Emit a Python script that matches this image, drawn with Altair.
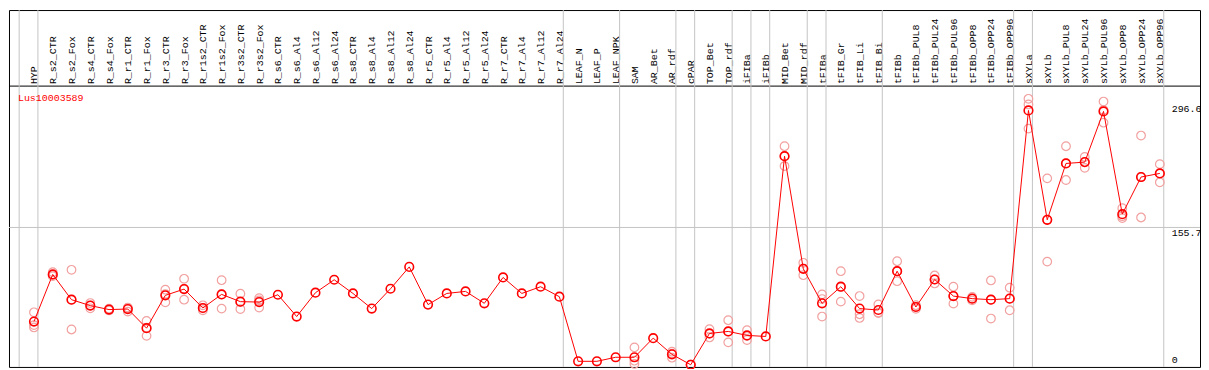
import json
import altair as alt
import pandas as pd

gene = "Lus10003589"

categories = [
    "HYP", "R_s2_CTR", "R_s2_Fox", "R_s4_CTR", "R_s4_Fox", "R_r1_CTR", "R_r1_Fox",
    "R_r3_CTR", "R_r3_Fox", "R_r1s2_CTR", "R_r1s2_Fox", "R_r3s2_CTR", "R_r3s2_Fox",
    "R_s6_CTR", "R_s6_Al4", "R_s6_Al12", "R_s6_Al24", "R_s8_CTR", "R_s8_Al4",
    "R_s8_Al12", "R_s8_Al24", "R_r5_CTR", "R_r5_Al4", "R_r5_Al12", "R_r5_Al24",
    "R_r7_CTR", "R_r7_Al4", "R_r7_Al12", "R_r7_Al24", "LEAF_N", "LEAF_P", "LEAF_NPK",
    "SAM", "AR_Bet", "AR_rdf", "cPAR", "TOP_Bet", "TOP_rdf", "iFIBa", "iFIBb",
    "MID_Bet", "MID_rdf", "tFIBa", "tFIB_Gr", "tFIB_Li", "tFIB_Bi", "tFIBb",
    "tFIBb_PUL8", "tFIBb_PUL24", "tFIBb_PUL96", "tFIBb_OPP8", "tFIBb_OPP24",
    "tFIBb_OPP96", "sXYLa", "sXYLb", "sXYLb_PUL8", "sXYLb_PUL24", "sXYLb_PUL96",
    "sXYLb_OPP8", "sXYLb_OPP24", "sXYLb_OPP96",
]

means = [
    49.0, 102.4, 73.8, 67.1, 62.6, 63.2, 41.5, 78.7, 85.8, 64.4, 79.8, 71.6, 71.1,
    79.4, 54.7, 81.7, 96.4, 80.9, 63.7, 86.2, 111.0, 68.2, 80.9, 83.2, 69.7,
    99.0, 80.9, 88.5, 77.2, 3.9, 3.9, 8.5,
    8.5, 30.2, 11.8, 0.0, 35.5, 37.8, 33.3, 32.1,
    236.5, 108.8, 69.7, 88.5, 63.7, 62.1, 106.1,
    65.5, 96.7, 77.9, 75.0, 73.8, 75.0,
    288.4, 164.4, 228.3, 229.8, 287.3, 170.8, 212.9, 217.0,
]

replicates = {
    "HYP": [59.5, 45.0, 42.3],
    "R_s2_CTR": [105.0, 102.0, 100.5],
    "R_s2_Fox": [107.7, 73.8, 40.0],
    "R_s4_CTR": [70.0, 67.0, 64.0],
    "R_s4_Fox": [63.6, 62.6, 61.6],
    "R_r1_CTR": [64.8, 64.5, 60.3],
    "R_r1_Fox": [49.7, 42.0, 32.8],
    "R_r3_CTR": [85.1, 80.2, 70.8],
    "R_r3_Fox": [97.5, 86.0, 73.8],
    "R_r1s2_CTR": [67.4, 64.0, 61.8],
    "R_r1s2_Fox": [95.9, 79.8, 63.7],
    "R_r3s2_CTR": [80.6, 71.0, 63.2],
    "R_r3s2_Fox": [75.6, 73.0, 64.8],
    "SAM": [19.7, 4.6, 0.9],
    "AR_rdf": [14.8, 12.5, 8.0],
    "cPAR": [0.0, 0.0],
    "TOP_Bet": [40.4, 35.0, 31.0],
    "TOP_rdf": [50.5, 37.5, 25.4],
    "iFIBa": [39.2, 32.5, 28.0],
    "MID_Bet": [247.8, 236.5, 225.3],
    "MID_rdf": [115.6, 109.0, 101.6],
    "tFIBa": [79.8, 74.5, 54.7],
    "tFIB_Gr": [106.1, 88.0, 71.6],
    "tFIB_Li": [77.9, 57.3, 53.1],
    "tFIB_Bi": [68.5, 59.2, 58.6],
    "tFIBb": [117.4, 106.1, 94.8],
    "tFIBb_PUL8": [67.5, 65.5, 63.5],
    "tFIBb_PUL24": [101.2, 96.7, 92.2],
    "tFIBb_PUL96": [88.5, 77.9, 69.3],
    "tFIBb_OPP8": [77.0, 75.0, 73.0],
    "tFIBb_OPP24": [95.6, 73.8, 52.4],
    "tFIBb_OPP96": [87.4, 75.0, 61.8],
    "sXYLa": [301.6, 295.2, 267.8],
    "sXYLb": [211.4, 164.4, 117.0],
    "sXYLb_PUL8": [247.8, 228.3, 209.5],
    "sXYLb_PUL24": [235.7, 229.8, 223.3],
    "sXYLb_PUL96": [298.5, 288.9, 274.5],
    "sXYLb_OPP8": [177.6, 168.5, 166.3],
    "sXYLb_OPP24": [259.9, 212.9, 167.0],
    "sXYLb_OPP96": [227.5, 217.0, 206.9],
}

group_ends = [
    "HYP", "R_r7_Al24", "LEAF_NPK", "AR_rdf", "cPAR", "TOP_rdf", "iFIBa", "iFIBb",
    "MID_rdf", "tFIBa", "tFIB_Bi", "tFIBb_OPP96", "sXYLa", "sXYLb_OPP96",
]

y_ticks = [0, 155.7, 296.6]
y_grid = [155.7]

assert len(categories) == len(means)

# ---- tables ----
mean_df = pd.DataFrame({"idx": range(len(categories)), "sample": categories, "value": means})
rep_rows = []
for name, vals in replicates.items():
    i = categories.index(name)
    for v in vals:
        rep_rows.append({"idx": i, "sample": name, "value": v})
rep_df = pd.DataFrame(rep_rows)

sep_pos = [-1] + [categories.index(n) for n in group_ends]
sep_df = pd.DataFrame({"idx": [p + 0.21 for p in sep_pos]})
grid_df = pd.DataFrame({"value": y_grid})
title_df = pd.DataFrame({"name": [gene]})

W, H = 1198, 359
FONT = "Liberation Mono"
RED = "#ff0000"
PINK = "#f2a0a0"
GRAY = "#c4c4c4"

x_scale = alt.Scale(domain=[-1.3316, 62.142], nice=False, zero=False)
y_scale = alt.Scale(domain=[-2.48, 402.25], nice=False, zero=False)

label_expr = json.dumps(categories) + "[datum.value]"

x_axis = alt.Axis(
    orient="top", offset=-76, values=list(range(len(categories))),
    labelExpr=label_expr, labelAngle=270, labelPadding=2, labelFont=FONT,
    labelFontSize=10, labelColor="black", labelOverlap=False, labelFlush=False,
    labelBound=False, ticks=False, tickSize=0, grid=False, domain=True,
    domainColor="black", domainWidth=1, title=None,
)

y_axis = alt.Axis(
    orient="right", offset=-29, values=y_ticks, labelFont=FONT, labelFontSize=10,
    labelColor="black", labelAlign="left", labelPadding=0, ticks=False, tickSize=0,
    domain=False, grid=False, title=None, labelOverlap=False, labelFlush=False,
    labelExpr="datum.value == 0 ? '0' : format(datum.value, '.1f')",
    labelBaseline={"condition": {"test": "datum.value == 0", "value": "bottom"}, "value": "top"},
)

X = alt.X("idx:Q", scale=x_scale, axis=x_axis)
Y = alt.Y("value:Q", scale=y_scale, axis=y_axis)

hgrid = alt.Chart(grid_df).mark_rule(color=GRAY, strokeWidth=1).encode(y=Y)

vsep = alt.Chart(sep_df).mark_rule(color=GRAY, strokeWidth=1).encode(x=X)

reps = alt.Chart(rep_df).mark_point(
    shape="circle", filled=False, size=75, color=PINK, strokeWidth=1.2, opacity=1
).encode(x=X, y=Y)

line = alt.Chart(mean_df).mark_line(color=RED, strokeWidth=1).encode(
    x=X, y=Y, order="idx:Q"
)

pts = alt.Chart(mean_df).mark_point(
    shape="circle", filled=False, size=75, color=RED, strokeWidth=1.6, opacity=1
).encode(x=X, y=Y)

title = alt.Chart(title_df).mark_text(
    font=FONT, fontSize=10, color=RED, align="left", baseline="middle"
).encode(x=alt.value(9), y=alt.value(88), text="name:N")

chart = alt.layer(hgrid, vsep, reps, line, pts, title).properties(
    width=W, height=H,
    autosize=alt.AutoSizeParams(type="none"),
    padding={"left": 1, "top": 1, "right": 1, "bottom": 1},
    background="white",
).configure_view(stroke="black", strokeWidth=1)

chart.save("out.html", embed_options={"renderer": "svg", "actions": False})
